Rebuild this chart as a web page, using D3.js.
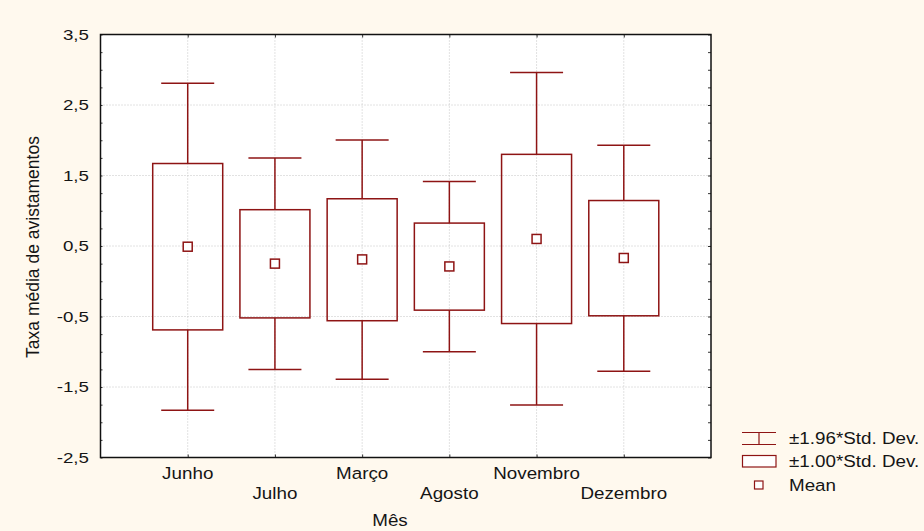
<!DOCTYPE html>
<html><head><meta charset="utf-8">
<script src="https://cdn.jsdelivr.net/npm/d3@7"></script>
<style>body{margin:0;background:#FFF9EE;}svg{display:block;font-family:"Liberation Sans",Arial,sans-serif;}</style>
</head><body><svg id="c" width="924" height="531"></svg>
<script>
const categories = ["Junho","Julho","Março","Agosto","Novembro","Dezembro"];
const means      = [0.49, 0.25, 0.31, 0.21, 0.60, 0.33];
const boxHigh    = [1.67, 1.015, 1.17, 0.825, 1.80, 1.145];
const boxLow     = [-0.69, -0.52, -0.56, -0.41, -0.60, -0.49];
const whiskHigh  = [2.81, 1.75, 2.005, 1.415, 2.96, 1.93];
const whiskLow   = [-1.83, -1.25, -1.39, -1.00, -1.755, -1.275];
const yTicks     = [3.5, 2.5, 1.5, 0.5, -0.5, -1.5, -2.5];
const legendLabels = ["±1.96*Std. Dev.", "±1.00*Std. Dev.", "Mean"];

const svg = d3.select("#c");
const W = 924, H = 531;
const L = 100.5, R = 711, T = 34.5, B = 457.5;
const red = "#8E1414";
const txt = "#151515";
svg.append("rect").attr("width", W).attr("height", H).attr("fill", "#FFF9EE");
svg.append("rect").attr("x", L).attr("y", T).attr("width", R-L).attr("height", B-T).attr("fill", "#fff");

const x = d3.scalePoint().domain(categories).range([L, R]).padding(1);
const y = d3.scaleLinear().domain([-2.5, 3.5]).range([B, T]);
const fmt = v => d3.format(".1f")(v).replace(".", ",").replace("−", "-");

// stretched text helper
function stext(sel, fx, fy, sx, size, anchor) {
  return sel.attr("transform", (d, i) => `translate(${fx(d, i)},${fy(d, i)}) scale(${sx},1)`)
    .attr("font-size", size).attr("text-anchor", anchor).attr("fill", txt);
}

// grid
const g = svg.append("g");
g.selectAll(".hg").data(yTicks.slice(1, -1)).join("line")
  .attr("x1", L).attr("x2", R).attr("y1", d => y(d)).attr("y2", d => y(d))
  .attr("stroke", "#c4c4c4").attr("stroke-width", 1).attr("stroke-dasharray", "1,2");
g.selectAll(".vg").data(categories).join("line")
  .attr("x1", d => x(d)).attr("x2", d => x(d)).attr("y1", T).attr("y2", B)
  .attr("stroke", "#c4c4c4").attr("stroke-width", 1).attr("stroke-dasharray", "1,2");

// axes (ticks inward)
const minor = d3.range(-2.5, 3.5001, 0.25);
const axL = svg.append("g").attr("transform", `translate(${L},0)`)
  .call(d3.axisRight(y).tickValues(minor).tickSize(2).tickFormat(""));
axL.selectAll("line").attr("stroke", "#333");
axL.select(".domain").remove();
const axR = svg.append("g").attr("transform", `translate(${R},0)`)
  .call(d3.axisLeft(y).tickValues(minor).tickSize(3).tickFormat(""));
axR.selectAll("line").attr("stroke", "#333");
axR.select(".domain").remove();
const axT = svg.append("g").attr("transform", `translate(0,${T})`)
  .call(d3.axisBottom(x).tickSize(3).tickFormat(""));
axT.select(".domain").remove();
axT.selectAll("line").attr("stroke", "#333");
const axB = svg.append("g").attr("transform", `translate(0,${B})`)
  .call(d3.axisTop(x).tickSize(3).tickFormat(""));
axB.select(".domain").remove();
axB.selectAll("line").attr("stroke", "#333");

svg.append("rect").attr("x", L).attr("y", T).attr("width", R-L).attr("height", B-T)
  .attr("fill", "none").attr("stroke", "#111").attr("stroke-width", 1.5);

// y tick labels
stext(svg.selectAll(".yl").data(yTicks).join("text"), () => 89, d => y(d) + 5.3, 1.25, 15, "end").text(fmt);

// x tick labels (staggered)
stext(svg.selectAll(".xl").data(categories).join("text"),
  d => x(d), (d, i) => i % 2 === 0 ? 479 : 498.5, 1.14, 16.5, "middle").text(d => d);

stext(svg.selectAll(".xt").data(["Mês"]).join("text"), () => 390, () => 525.5, 1.14, 16.5, "middle").text(d => d);
svg.append("text").attr("transform", "translate(39,247) rotate(-90)")
  .attr("text-anchor", "middle").attr("font-size", 17.5).attr("fill", txt)
  .text("Taxa média de avistamentos");

// boxes
const boxW = 70, capW = 53, mS = 9;
const grp = svg.selectAll(".bx").data(categories).join("g");
grp.append("line").attr("x1", d => x(d)).attr("x2", d => x(d))
  .attr("y1", (d, i) => y(whiskHigh[i])).attr("y2", (d, i) => y(boxHigh[i]))
  .attr("stroke", red).attr("stroke-width", 1.5);
grp.append("line").attr("x1", d => x(d)).attr("x2", d => x(d))
  .attr("y1", (d, i) => y(boxLow[i])).attr("y2", (d, i) => y(whiskLow[i]))
  .attr("stroke", red).attr("stroke-width", 1.5);
grp.append("line").attr("x1", d => x(d) - capW/2).attr("x2", d => x(d) + capW/2)
  .attr("y1", (d, i) => y(whiskHigh[i])).attr("y2", (d, i) => y(whiskHigh[i]))
  .attr("stroke", red).attr("stroke-width", 1.5);
grp.append("line").attr("x1", d => x(d) - capW/2).attr("x2", d => x(d) + capW/2)
  .attr("y1", (d, i) => y(whiskLow[i])).attr("y2", (d, i) => y(whiskLow[i]))
  .attr("stroke", red).attr("stroke-width", 1.5);
grp.append("rect").attr("x", d => x(d) - boxW/2).attr("width", boxW)
  .attr("y", (d, i) => y(boxHigh[i])).attr("height", (d, i) => y(boxLow[i]) - y(boxHigh[i]))
  .attr("fill", "none").attr("stroke", red).attr("stroke-width", 1.5);
grp.append("rect").attr("x", d => x(d) - mS/2).attr("width", mS)
  .attr("y", (d, i) => y(means[i]) - mS/2).attr("height", mS)
  .attr("fill", "#fff").attr("stroke", red).attr("stroke-width", 1.5);

// legend
const lg = svg.append("g");
lg.append("path").attr("d", "M742,432.5H776M759,432.5V444.5M742,444.5H776")
  .attr("fill", "none").attr("stroke", red).attr("stroke-width", 1.2);
lg.append("rect").attr("x", 742.5).attr("y", 455.5).attr("width", 33.5).attr("height", 11.5)
  .attr("fill", "#fff").attr("stroke", red).attr("stroke-width", 1.2);
lg.append("rect").attr("x", 754.5).attr("y", 481).attr("width", 8.5).attr("height", 8)
  .attr("fill", "#fff").attr("stroke", red).attr("stroke-width", 1.2);
stext(lg.selectAll("text").data(legendLabels).join("text"),
  () => 789, (d, i) => [443.5, 467, 491][i], 1.14, 16.5, "start").text(d => d);
</script></body></html>
